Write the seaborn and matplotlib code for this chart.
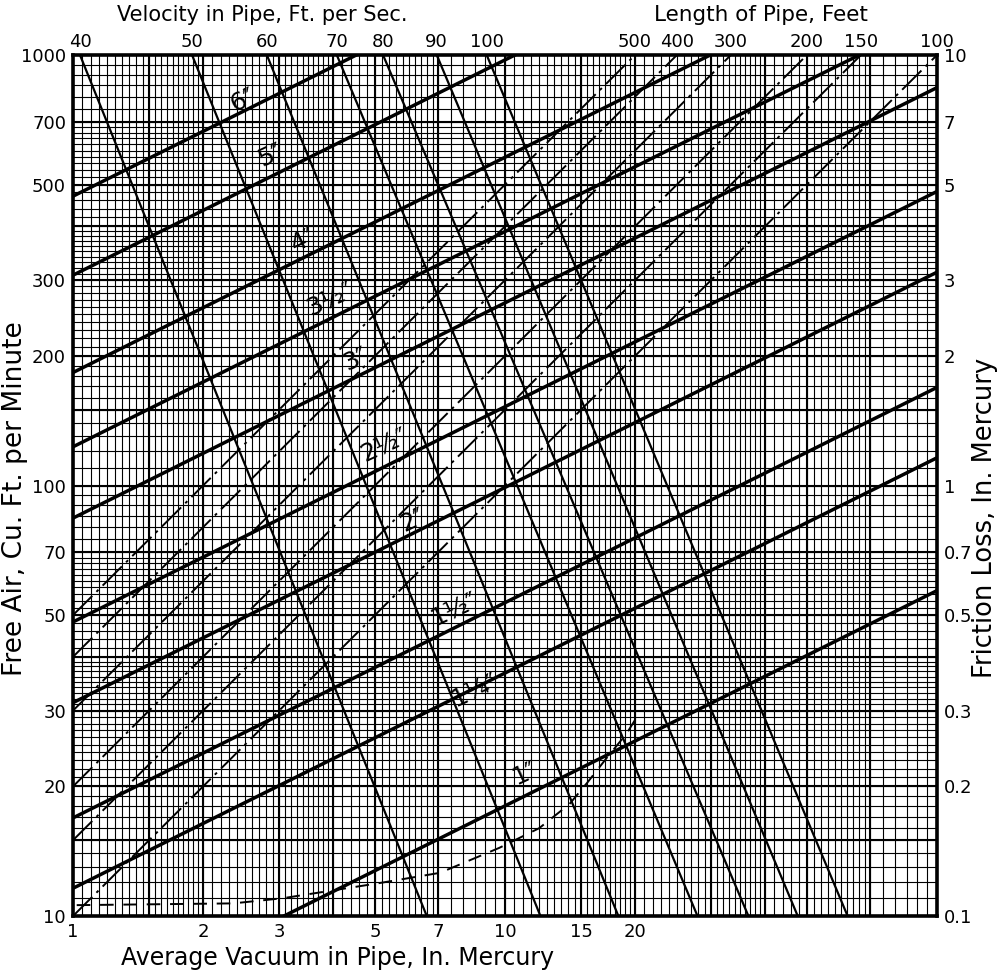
import numpy as np
import pandas as pd
import matplotlib
matplotlib.use("Agg")
import matplotlib.pyplot as plt
from matplotlib.ticker import NullLocator, FixedLocator, FixedFormatter
import seaborn as sns

# ---------------- data ----------------
# Pipe-size lines: Free air (cfm) at 1 in. vacuum, slope 1/2 on log-log
pipe_labels = ['6″', '5″', '4″', '3½″', '3″', '2½″', '2″', '1½″', '1¼″', '1″']
pipe_cfm_at_1in = [470, 308, 183, 123, 84, 48.2, 31.3, 16.9, 11.6, 5.7]
pipe_label_x = [2.47, 2.86, 3.41, 3.94, 4.50, 5.27, 6.12, 7.66, 8.52, 11.1]
pipe_label_y = [786, 586, 372, 270, 196, 124, 83, 51.4, 33.5, 21.5]

# Velocity lines (ft/sec): vacuum where each line meets 1000 cfm and 10 cfm
velocity_labels = ['40', '50', '60', '70', '80', '90', '100']
velocity_vac_at_1000 = [1.038, 1.886, 2.81, 4.08, 5.22, 6.95, 9.07]
velocity_vac_at_10 = [6.59, 12.08, 18.3, 27.9, 36.6, 47.6, 62.1]

# Length-of-pipe lines (feet): free air at 1 in. vacuum (slope 1)
length_labels = ['500', '400', '300', '200', '150', '100']
length_cfm_at_1in = [50, 40, 30, 20, 15, 10]

# Dashed limiting curve
curve_vac = [1.02, 2.35, 3.06, 5.05, 7.07, 9.7, 12.0, 14.1, 15.5, 17.2, 19.1, 20.2]
curve_cfm = [10.6, 10.7, 11.0, 11.9, 12.6, 14.4, 16.0, 18.2, 20.4, 23.3, 26.5, 29.0]

# Axis tick labels
bottom_ticks = [1, 2, 3, 5, 7, 10, 15, 20]
left_ticks = [10, 20, 30, 50, 70, 100, 200, 300, 500, 700, 1000]
right_ticks = [0.1, 0.2, 0.3, 0.5, 0.7, 1, 2, 3, 5, 7, 10]
right_tick_labels = ['0.1', '0.2', '0.3', '0.5', '0.7', '1', '2', '3', '5', '7', '10']

# ---------------- style ----------------
sns.set_theme(style="white", rc={
    "text.color": "black", "axes.labelcolor": "black",
    "xtick.color": "black", "ytick.color": "black",
    "axes.edgecolor": "black",
})
plt.rcParams['font.family'] = ['DejaVu Sans']

fig = plt.figure(figsize=(10, 9.77), dpi=100)
ax = fig.add_axes([0.073, 0.0624, 0.864, 0.8813])
ax.set_xscale('log')
ax.set_yscale('log')
ax.set_xlim(1, 100)
ax.set_ylim(10, 1000)

# ---------------- log-paper grid ----------------
def paper(first_step):
    fine, heavy = [], []
    for d in (1, 10, 100):
        for a, b, s in [(1, 2, first_step), (2, 4, 0.1), (4, 7, 0.2), (7, 10, 0.5)]:
            fine += list(np.round(np.arange(a, b, s) * d, 6))
        heavy += [m * d for m in (1, 1.5, 2, 3, 4, 5, 7)]
    return fine, heavy

gx_fine, gx_heavy = paper(0.05)
gy_fine, gy_heavy = paper(0.1)
gy_fine = [v for v in gy_fine if 10 <= v <= 1000]
gy_heavy = [v for v in gy_heavy if 10 <= v <= 1000]
gx_fine = [v for v in gx_fine if 1 <= v <= 100]
gx_heavy = [v for v in gx_heavy if 1 <= v <= 100]

ax.vlines(gx_fine, 10, 1000, colors='black', lw=0.8, zorder=1)
ax.hlines(gy_fine, 1, 100, colors='black', lw=0.8, zorder=1)
ax.vlines(gx_heavy, 10, 1000, colors='black', lw=1.5, zorder=1)
ax.hlines(gy_heavy, 1, 100, colors='black', lw=1.5, zorder=1)

# ---------------- families of lines ----------------
pipe_df = pd.DataFrame({
    'x': np.concatenate([[1, 100] for _ in pipe_cfm_at_1in]),
    'y': np.concatenate([[a, a * 10] for a in pipe_cfm_at_1in]),
    'line': np.repeat(pipe_labels, 2),
})
sns.lineplot(data=pipe_df, x='x', y='y', units='line', estimator=None, sort=False,
             color='black', lw=2.5, ax=ax, zorder=4)

vel_df = pd.DataFrame({
    'x': np.concatenate([[t, b] for t, b in zip(velocity_vac_at_1000, velocity_vac_at_10)]),
    'y': np.tile([1000, 10], len(velocity_labels)),
    'line': np.repeat(velocity_labels, 2),
})
sns.lineplot(data=vel_df, x='x', y='y', units='line', estimator=None, sort=False,
             color='black', lw=1.6, ax=ax, zorder=3)

len_df = pd.DataFrame({
    'x': np.tile([1, 100], len(length_labels)),
    'y': np.concatenate([[k, k * 100] for k in length_cfm_at_1in]),
    'line': np.repeat(length_labels, 2),
})
sns.lineplot(data=len_df, x='x', y='y', units='line', estimator=None, sort=False,
             color='black', lw=1.4, dashes=(14, 3, 1.5, 3), ax=ax, zorder=3)

curve_df = pd.DataFrame({'x': curve_vac, 'y': curve_cfm})
sns.lineplot(data=curve_df, x='x', y='y', estimator=None, sort=False,
             color='black', lw=1.4, dashes=(7, 5), ax=ax, zorder=3)

for lab, lx, ly in zip(pipe_labels, pipe_label_x, pipe_label_y):
    ax.text(lx, ly, lab, rotation=25, ha='center', va='center', fontsize=18,
            color='black', zorder=5)

# ---------------- axes, ticks ----------------
ax.set_xlabel('')
ax.set_ylabel('')
ax.xaxis.set_major_locator(FixedLocator(bottom_ticks))
ax.xaxis.set_major_formatter(FixedFormatter([str(t) for t in bottom_ticks]))
ax.xaxis.set_minor_locator(NullLocator())
ax.yaxis.set_major_locator(FixedLocator(left_ticks))
ax.yaxis.set_major_formatter(FixedFormatter([str(t) for t in left_ticks]))
ax.yaxis.set_minor_locator(NullLocator())
ax.tick_params(axis='both', length=0, labelsize=13, pad=5)
for s in ax.spines.values():
    s.set_linewidth(2.6)
    s.set_zorder(6)

ax_top = ax.twiny()
ax_top.set_xscale('log')
ax_top.set_xlim(1, 100)
top_pos = list(velocity_vac_at_1000) + [1000.0 / k for k in length_cfm_at_1in]
top_lab = velocity_labels + length_labels
ax_top.xaxis.set_major_locator(FixedLocator(top_pos))
ax_top.xaxis.set_major_formatter(FixedFormatter(top_lab))
ax_top.xaxis.set_minor_locator(NullLocator())
ax_top.tick_params(axis='x', length=0, labelsize=13, pad=3)

ax_r = ax.twinx()
ax_r.set_yscale('log')
ax_r.set_ylim(0.1, 10)
ax_r.yaxis.set_major_locator(FixedLocator(right_ticks))
ax_r.yaxis.set_major_formatter(FixedFormatter(right_tick_labels))
ax_r.yaxis.set_minor_locator(NullLocator())
ax_r.tick_params(axis='y', length=0, labelsize=13, pad=5)
for a in (ax_top, ax_r):
    for s in a.spines.values():
        s.set_visible(False)

fig.text(0.262, 0.985, 'Velocity in Pipe, Ft. per Sec.', ha='center', va='center', fontsize=15)
fig.text(0.761, 0.985, 'Length of Pipe, Feet', ha='center', va='center', fontsize=15.5)
fig.text(0.338, 0.019, 'Average Vacuum in Pipe, In. Mercury', ha='center', va='center', fontsize=17)
fig.text(0.015, 0.49, 'Free Air, Cu. Ft. per Minute', ha='center', va='center',
         rotation=90, fontsize=19)
fig.text(0.985, 0.47, 'Friction Loss, In. Mercury', ha='center', va='center',
         rotation=90, fontsize=18.5)

fig.savefig('out.png', dpi=100, facecolor='white')
